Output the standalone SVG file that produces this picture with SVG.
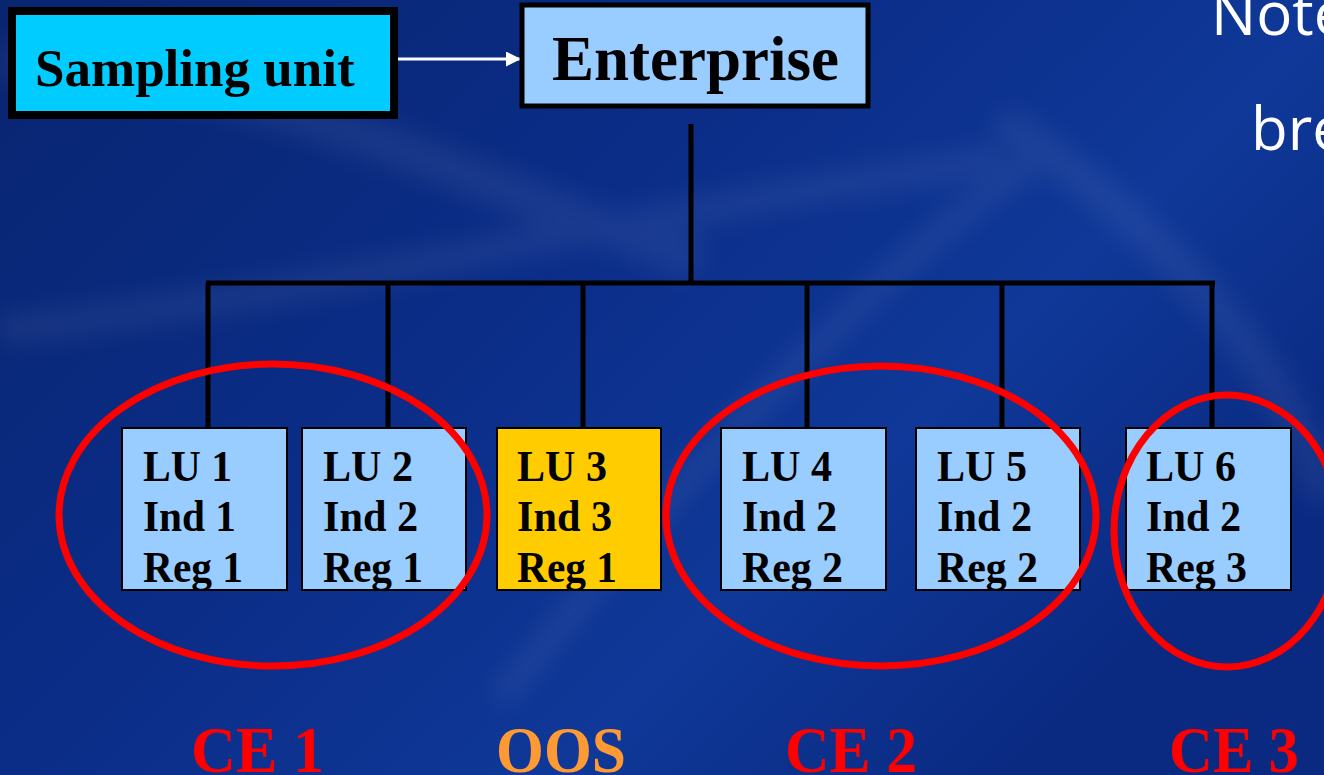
<svg xmlns="http://www.w3.org/2000/svg" width="1324" height="775" viewBox="0 0 1324 775">
<defs>
<linearGradient id="bg" x1="0" y1="0" x2="1" y2="0.6">
<stop offset="0" stop-color="#082570"/>
<stop offset="0.45" stop-color="#0b2d88"/>
<stop offset="0.75" stop-color="#0f3898"/>
<stop offset="1" stop-color="#0a2a82"/>
</linearGradient>
<filter id="blur" x="-10%" y="-10%" width="120%" height="120%"><feGaussianBlur stdDeviation="12"/></filter>
<marker id="ah" viewBox="0 0 10 10" refX="10" refY="5" markerWidth="5" markerHeight="5" markerUnits="strokeWidth" orient="auto">
<path d="M0,0 L10,5 L0,10 z" fill="#ffffff"/>
</marker>
<style>
.lu{fill:#99ccff;stroke:#000;stroke-width:2}
.oos{fill:#ffcc00;stroke:#000;stroke-width:2}
.t{font-family:"Liberation Serif","Times New Roman",serif;font-weight:bold;fill:#000}
.lt{font-size:44px}
.ce{font-family:"Liberation Serif","Times New Roman",serif;font-weight:bold;font-size:66px;fill:#ff0000}
.ell{fill:none;stroke:#ff0000;stroke-width:7}
.ln{stroke:#000;stroke-width:5;fill:none}
.note{font-family:"Open Sans","DejaVu Sans",sans-serif;font-size:60px;fill:#ffffff}
</style>
</defs>
<rect x="0" y="0" width="1324" height="775" fill="url(#bg)"/>
<g opacity="0.06" fill="none" stroke="#ffffff" filter="url(#blur)">
<path d="M0,60 C300,80 500,200 700,260" stroke-width="40"/>
<path d="M0,330 C300,300 700,200 1000,160" stroke-width="30"/>
<path d="M500,700 C700,450 900,250 1050,150" stroke-width="25"/>
<path d="M1000,120 C1200,250 1300,400 1324,500" stroke-width="35"/>
</g>

<g id="note-text">
<text class="note" x="1211" y="35">Note</text>
<text class="note" x="1251" y="150">bre</text>
</g>

<g id="connectors">
<line x1="394" y1="59" x2="521" y2="59" stroke="#ffffff" stroke-width="3" marker-end="url(#ah)"/>
<line class="ln" x1="691" y1="124" x2="691" y2="283"/>
<line class="ln" x1="206" y1="283" x2="1215" y2="283"/>
<line class="ln" x1="208" y1="283" x2="208" y2="428" stroke-width="4"/>
<line class="ln" x1="388" y1="283" x2="388" y2="428" stroke-width="4"/>
<line class="ln" x1="583" y1="283" x2="583" y2="428" stroke-width="4"/>
<line class="ln" x1="807" y1="283" x2="807" y2="428" stroke-width="4"/>
<line class="ln" x1="1002" y1="283" x2="1002" y2="428" stroke-width="4"/>
<line class="ln" x1="1212" y1="283" x2="1212" y2="428" stroke-width="4"/>
</g>

<g id="sampling-unit">
<rect x="12" y="11" width="382" height="104" fill="#00ccff" stroke="#000" stroke-width="8"/>
<text class="t" x="35" y="86" font-size="53">Sampling unit</text>
</g>

<g id="enterprise">
<rect x="522" y="5" width="346" height="101" fill="#99ccff" stroke="#000" stroke-width="5"/>
<text class="t" x="552" y="80" font-size="63">Enterprise</text>
</g>

<g id="lu1">
<rect class="lu" x="122" y="428" width="165" height="162"/>
<text class="t lt" x="143" y="481" textLength="89" lengthAdjust="spacingAndGlyphs">LU 1</text>
<text class="t lt" x="143" y="531" textLength="93" lengthAdjust="spacingAndGlyphs">Ind 1</text>
<text class="t lt" x="143" y="582" textLength="100" lengthAdjust="spacingAndGlyphs">Reg 1</text>
</g>
<g id="lu2">
<rect class="lu" x="302" y="428" width="164" height="162"/>
<text class="t lt" x="323" y="481" textLength="90" lengthAdjust="spacingAndGlyphs">LU 2</text>
<text class="t lt" x="323" y="531" textLength="95" lengthAdjust="spacingAndGlyphs">Ind 2</text>
<text class="t lt" x="323" y="582" textLength="100" lengthAdjust="spacingAndGlyphs">Reg 1</text>
</g>
<g id="lu3">
<rect class="oos" x="497" y="428" width="164" height="162"/>
<text class="t lt" x="517" y="481" textLength="90" lengthAdjust="spacingAndGlyphs">LU 3</text>
<text class="t lt" x="517" y="531" textLength="95" lengthAdjust="spacingAndGlyphs">Ind 3</text>
<text class="t lt" x="517" y="582" textLength="100" lengthAdjust="spacingAndGlyphs">Reg 1</text>
</g>
<g id="lu4">
<rect class="lu" x="721" y="428" width="165" height="162"/>
<text class="t lt" x="742" y="481" textLength="90" lengthAdjust="spacingAndGlyphs">LU 4</text>
<text class="t lt" x="742" y="531" textLength="95" lengthAdjust="spacingAndGlyphs">Ind 2</text>
<text class="t lt" x="742" y="582" textLength="101" lengthAdjust="spacingAndGlyphs">Reg 2</text>
</g>
<g id="lu5">
<rect class="lu" x="916" y="428" width="164" height="162"/>
<text class="t lt" x="937" y="481" textLength="90" lengthAdjust="spacingAndGlyphs">LU 5</text>
<text class="t lt" x="937" y="531" textLength="95" lengthAdjust="spacingAndGlyphs">Ind 2</text>
<text class="t lt" x="937" y="582" textLength="101" lengthAdjust="spacingAndGlyphs">Reg 2</text>
</g>
<g id="lu6">
<rect class="lu" x="1126" y="428" width="165" height="162"/>
<text class="t lt" x="1146" y="481" textLength="90" lengthAdjust="spacingAndGlyphs">LU 6</text>
<text class="t lt" x="1146" y="531" textLength="95" lengthAdjust="spacingAndGlyphs">Ind 2</text>
<text class="t lt" x="1146" y="582" textLength="101" lengthAdjust="spacingAndGlyphs">Reg 3</text>
</g>

<g id="ce1-ellipse"><ellipse class="ell" cx="273" cy="515" rx="214" ry="151"/></g>
<g id="ce2-ellipse"><ellipse class="ell" cx="881" cy="516" rx="215" ry="150"/></g>
<g id="ce3-ellipse"><ellipse class="ell" cx="1227" cy="531" rx="113" ry="136"/></g>

<g id="labels">
<text class="ce" x="191" y="772" textLength="133" lengthAdjust="spacingAndGlyphs">CE 1</text>
<text class="ce" x="496" y="772" textLength="130" lengthAdjust="spacingAndGlyphs" style="fill:#ff9933">OOS</text>
<text class="ce" x="785" y="772" textLength="132" lengthAdjust="spacingAndGlyphs">CE 2</text>
<text class="ce" x="1169" y="772" textLength="130" lengthAdjust="spacingAndGlyphs">CE 3</text>
</g>
</svg>
